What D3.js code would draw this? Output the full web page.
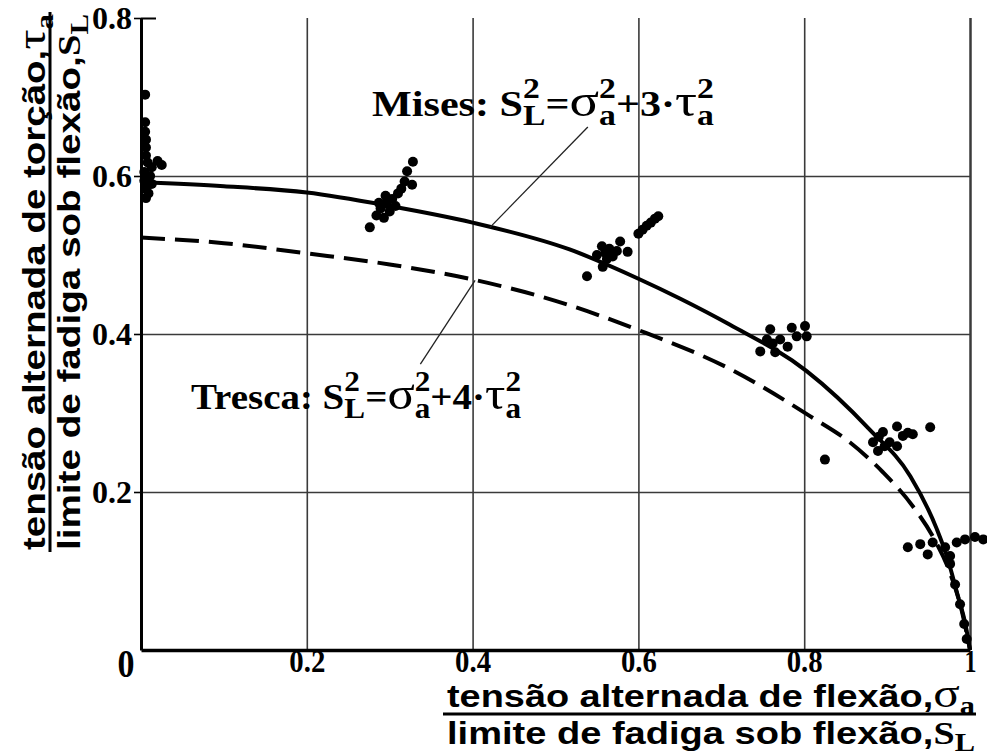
<!DOCTYPE html>
<html>
<head>
<meta charset="utf-8">
<script src="https://cdn.jsdelivr.net/npm/d3@7"></script>
<style>
  body { margin: 0; background: #fff; }
</style>
</head>
<body>
<div id="chart"></div>
<script>
// Ticks
const xTicks = [0.2, 0.4, 0.6, 0.8, 1];
const xTickLabels = ["0.2", "0.4", "0.6", "0.8", "1"];
const yTicks = [0.2, 0.4, 0.6, 0.8];
const yTickLabels = ["0.2", "0.4", "0.6", "0.8"];

// Criterion curves [sigma_a/S_L, tau_a/S_L]
const misesCurve = [
    [0, 0.592], [0.1, 0.587], [0.2, 0.579], [0.3, 0.562], [0.4, 0.541],
    [0.517, 0.507], [0.6, 0.47], [0.65, 0.445], [0.71, 0.412], [0.803, 0.353],
    [0.879, 0.279], [0.928, 0.22], [0.96, 0.153], [0.972, 0.119], [0.985, 0.07],
    [0.995, 0.03], [1, 0]
];
const trescaCurve = [
    [0, 0.522], [0.1, 0.515], [0.2, 0.502], [0.3, 0.488], [0.4, 0.469],
    [0.5, 0.442], [0.6, 0.405], [0.71, 0.356], [0.807, 0.296], [0.855, 0.263],
    [0.895, 0.225], [0.931, 0.182], [0.955, 0.144], [0.975, 0.1], [0.99, 0.05],
    [1, 0]
];

// Test results
const testPoints = [
    // sigma ~ 0
    [0.005, 0.703], [0.005, 0.668], [0.005, 0.656], [0.006, 0.646], [0.006, 0.636],
    [0.006, 0.626], [0.008, 0.617], [0.013, 0.611], [0.020, 0.619], [0.025, 0.614],
    [0.004, 0.605], [0.011, 0.600], [0.004, 0.594], [0.013, 0.590], [0.006, 0.584],
    [0.009, 0.578], [0.006, 0.572],
    // sigma ~ 0.3
    [0.276, 0.535], [0.284, 0.550], [0.289, 0.559], [0.293, 0.547], [0.296, 0.565],
    [0.300, 0.555], [0.303, 0.571], [0.307, 0.562], [0.310, 0.578], [0.314, 0.584],
    [0.318, 0.593], [0.321, 0.606], [0.327, 0.589], [0.328, 0.618], [0.295, 0.575],
    [0.287, 0.566],
    // sigma ~ 0.55
    [0.538, 0.473], [0.550, 0.500], [0.556, 0.511], [0.557, 0.485], [0.562, 0.495],
    [0.569, 0.498], [0.565, 0.508], [0.578, 0.517], [0.587, 0.504], [0.574, 0.505],
    [0.560, 0.503],
    [0.600, 0.527], [0.605, 0.532], [0.610, 0.537], [0.615, 0.541], [0.620, 0.546],
    [0.624, 0.549],
    // sigma ~ 0.78
    [0.747, 0.378], [0.755, 0.393], [0.759, 0.406], [0.765, 0.377], [0.771, 0.393],
    [0.780, 0.384], [0.785, 0.408], [0.791, 0.397], [0.801, 0.410], [0.803, 0.397],
    [0.762, 0.388],
    // sigma ~ 0.9
    [0.825, 0.241], [0.883, 0.263], [0.889, 0.252], [0.895, 0.276], [0.897, 0.258],
    [0.903, 0.263], [0.912, 0.283], [0.919, 0.271], [0.912, 0.258], [0.931, 0.273],
    [0.952, 0.282], [0.890, 0.270], [0.925, 0.275],
    // sigma ~ 0.95 - 1
    [0.925, 0.130], [0.940, 0.134], [0.949, 0.121], [0.955, 0.136], [0.970, 0.130],
    [0.976, 0.119], [0.984, 0.136], [0.994, 0.140], [1.006, 0.143], [1.016, 0.140],
    [0.976, 0.109], [0.982, 0.083], [0.988, 0.058], [0.993, 0.033], [0.996, 0.014]
];

// Formula labels: k = n (normal), sup, sub; g = greek letter
const misesLabel = [
    { t: "Mises: S", k: "n" }, { t: "2", k: "sup" }, { t: "L", k: "sub" },
    { t: "=", k: "n" }, { t: "σ", k: "n", g: true }, { t: "2", k: "sup" }, { t: "a", k: "sub" },
    { t: "+3·", k: "n" }, { t: "τ", k: "n", g: true }, { t: "2", k: "sup" }, { t: "a", k: "sub" }
];
const trescaLabel = [
    { t: "Tresca: S", k: "n" }, { t: "2", k: "sup" }, { t: "L", k: "sub" },
    { t: "=", k: "n" }, { t: "σ", k: "n", g: true }, { t: "2", k: "sup" }, { t: "a", k: "sub" },
    { t: "+4·", k: "n" }, { t: "τ", k: "n", g: true }, { t: "2", k: "sup" }, { t: "a", k: "sub" }
];
const xTitleTop = [
    { t: "tensão alternada de flexão,", k: "n", f: "sans" },
    { t: "σ", k: "n", g: true }, { t: "a", k: "sub" }
];
const xTitleBottom = [
    { t: "limite de fadiga sob flexão, ", k: "n", f: "sans" },
    { t: "S", k: "n" }, { t: "L", k: "sub" }
];
const yTitleTop = [
    { t: "tensão alternada de torção, ", k: "n", f: "sans" },
    { t: "τ", k: "n", g: true }, { t: "a", k: "sub" }
];
const yTitleBottom = [
    { t: "limite de fadiga sob flexão, ", k: "n", f: "sans" },
    { t: "S", k: "n" }, { t: "L", k: "sub" }
];

const totalWidth = 987;
const totalHeight = 756;
const plot = { left: 141, right: 970, top: 18, bottom: 650 };
const SERIF = "'Liberation Serif', 'Times New Roman', serif";
const SANS = "'Liberation Sans', Arial, sans-serif";

const svg = d3.select("#chart")
    .append("svg")
    .attr("width", totalWidth)
    .attr("height", totalHeight)
    .attr("viewBox", `0 0 ${totalWidth} ${totalHeight}`);

const x = d3.scaleLinear().domain([0, 1]).range([plot.left, plot.right]);
const y = d3.scaleLinear().domain([0, 0.8]).range([plot.bottom, plot.top]);

// Grid
svg.append("g")
    .attr("transform", `translate(0,${plot.bottom})`)
    .call(d3.axisBottom(x).tickValues(xTicks).tickSize(-(plot.bottom - plot.top)).tickFormat(""))
    .call(g => g.select(".domain").remove())
    .call(g => g.selectAll(".tick line")
        .attr("stroke", "#3a3a3a")
        .attr("stroke-width", d => d === 1 ? 2.5 : 1.6));

svg.append("g")
    .attr("transform", `translate(${plot.left},0)`)
    .call(d3.axisLeft(y).tickValues(yTicks.filter(d => d < 0.8)).tickSize(-(plot.right - plot.left)).tickFormat(""))
    .call(g => g.select(".domain").remove())
    .call(g => g.selectAll(".tick line").attr("stroke", "#3a3a3a").attr("stroke-width", 1.6));

// Curves
const line = d3.line()
    .x(d => x(d[0]))
    .y(d => y(d[1]))
    .curve(d3.curveMonotoneX);

svg.append("path")
    .datum(trescaCurve)
    .attr("fill", "none")
    .attr("stroke", "#000")
    .attr("stroke-width", 4)
    .attr("stroke-dasharray", "24,10")
    .attr("d", line);

svg.append("path")
    .datum(misesCurve)
    .attr("fill", "none")
    .attr("stroke", "#000")
    .attr("stroke-width", 4)
    .attr("d", line);

// Axes
const yAxis = svg.append("g")
    .attr("transform", `translate(${plot.left},0)`)
    .call(d3.axisLeft(y).tickValues(yTicks).tickFormat((d, i) => yTickLabels[i])
        .tickSize(7).tickSizeOuter(0).tickPadding(2));
yAxis.select(".domain").attr("stroke-width", 3);
yAxis.selectAll(".tick line").attr("stroke-width", 1.6);
yAxis.selectAll(".tick text")
    .style("font-family", SERIF)
    .style("font-weight", "bold")
    .style("font-size", "32px")
    .attr("fill", "#000");
// short inward stub at the top
yAxis.selectAll(".tick").filter(d => d === 0.8)
    .append("line").attr("x2", 15).attr("stroke", "#000").attr("stroke-width", 2);

const xAxis = svg.append("g")
    .attr("transform", `translate(0,${plot.bottom})`)
    .call(d3.axisBottom(x).tickValues(xTicks).tickFormat((d, i) => xTickLabels[i])
        .tickSize(0).tickSizeOuter(0).tickPadding(0));
xAxis.select(".domain").attr("stroke-width", 3.5);
xAxis.selectAll(".tick text")
    .style("font-family", SERIF)
    .style("font-weight", "bold")
    .style("font-size", "31px")
    .attr("fill", "#000")
    .attr("textLength", (d, i) => xTickLabels[i].length > 1 ? 36 : 12)
    .attr("lengthAdjust", "spacingAndGlyphs");

// origin label
svg.append("text")
    .attr("x", x(0) - 15)
    .attr("y", plot.bottom + 27)
    .attr("text-anchor", "middle")
    .style("font-family", SERIF)
    .style("font-weight", "bold")
    .style("font-size", "40px")
    .attr("textLength", 17)
    .attr("lengthAdjust", "spacingAndGlyphs")
    .text("0");

// Leader lines
const leaders = [
    [[0.539, 0.662], [0.421, 0.535]],
    [[0.403, 0.468], [0.337, 0.362]]
];
svg.selectAll(".leader")
    .data(leaders)
    .join("line")
    .attr("class", "leader")
    .attr("x1", d => x(d[0][0]))
    .attr("y1", d => y(d[0][1]))
    .attr("x2", d => x(d[1][0]))
    .attr("y2", d => y(d[1][1]))
    .attr("stroke", "#222")
    .attr("stroke-width", 1.3);

// Points
svg.append("g")
    .selectAll("circle")
    .data(testPoints)
    .join("circle")
    .attr("cx", d => x(d[0]))
    .attr("cy", d => y(d[1]))
    .attr("r", 5)
    .attr("fill", "#000");

// One text element, one tspan per run; stacked sup/sub share an x
function drawRuns(g, runs, size, weight) {
    const text = g.append("text").attr("fill", "#000");
    let cx = 0, supStart = 0, prev = null;
    runs.forEach(r => {
        let fs = r.k === "n" ? size : size * 0.8;
        if (r.g) fs = size * 1.3;
        const dy = r.k === "sup" ? -size * 0.5 : r.k === "sub" ? size * 0.24 : 0;
        const stacked = r.k === "sub" && prev && prev.k === "sup";
        const x0 = stacked ? supStart : cx;
        const t = text.append("tspan")
            .attr("x", x0)
            .attr("y", dy)
            .style("font-family", r.f === "sans" ? SANS : SERIF)
            .style("font-weight", r.g ? "normal" : weight)
            .style("font-size", fs + "px")
            .text(r.t);
        const w = t.node().getComputedTextLength();
        if (r.k === "sup") { supStart = cx; cx += w; }
        else if (stacked) { cx = Math.max(cx, x0 + w); }
        else { cx = x0 + w; }
        prev = r;
    });
    return cx;
}

function fitRuns(parent, runs, size, weight, x0, y0, targetW) {
    const g = parent.append("g");
    const w = drawRuns(g, runs, size, weight);
    g.attr("transform", `translate(${x0},${y0}) scale(${targetW / w},1)`);
    return g;
}

// Annotations
fitRuns(svg, misesLabel, 36, "bold", 372, 116, 342);
fitRuns(svg, trescaLabel, 36, "bold", 191, 409, 330);

// X title
fitRuns(svg, xTitleTop, 31, "bold", 447, 707, 528);
svg.append("line")
    .attr("x1", 443).attr("x2", 976)
    .attr("y1", 714).attr("y2", 714)
    .attr("stroke", "#000").attr("stroke-width", 3);
fitRuns(svg, xTitleBottom, 31, "bold", 447, 744, 528);

// Y title (rotated)
const yTitle = svg.append("g").attr("transform", "translate(0,550) rotate(-90)");
fitRuns(yTitle, yTitleTop, 32, "bold", 0, 45, 536);
yTitle.append("line")
    .attr("x1", -2).attr("x2", 538)
    .attr("y1", 50).attr("y2", 50)
    .attr("stroke", "#000").attr("stroke-width", 3);
fitRuns(yTitle, yTitleBottom, 32, "bold", 0, 80, 536);
</script>
</body>
</html>
